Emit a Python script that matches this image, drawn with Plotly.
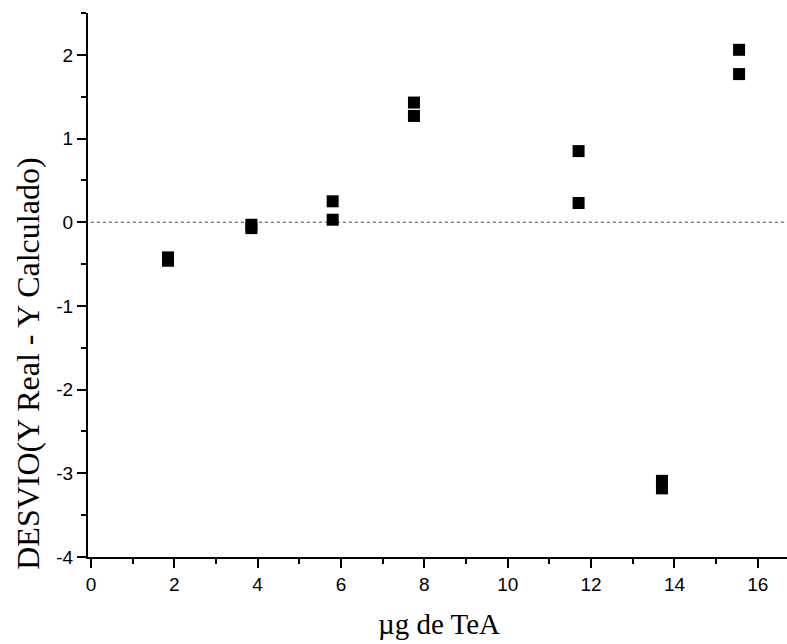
import plotly.graph_objects as go

# Residuals of the calibration fit: mass of TeA (µg) vs deviation (real - calculated)
mass_ug = [1.85, 1.85, 3.85, 3.85, 5.8, 5.8, 7.75, 7.75, 11.7, 11.7, 13.7, 13.7, 15.55, 15.55]
deviation = [-0.42, -0.46, -0.03, -0.07, 0.25, 0.03, 1.43, 1.27, 0.85, 0.23, -3.09, -3.18, 2.06, 1.77]

x_ticks = [0, 2, 4, 6, 8, 10, 12, 14, 16]
y_ticks = [-4, -3, -2, -1, 0, 1, 2]

x_title = "µg de TeA"
y_title = "DESVIO(Y Real - Y Calculado)"

fig = go.Figure()

# zero reference line
fig.add_trace(go.Scatter(
    x=[0, 16.7], y=[0, 0], mode="lines",
    line=dict(color="#444444", width=1, dash="dot"),
    hoverinfo="skip", showlegend=False,
))

fig.add_trace(go.Scatter(
    x=mass_ug, y=deviation, mode="markers",
    marker=dict(symbol="square", size=12, color="black"),
    showlegend=False,
))

axis_common = dict(
    showline=True, linecolor="black", linewidth=2,
    ticks="outside", tickcolor="black", tickwidth=2, ticklen=9,
    showgrid=False, zeroline=False, mirror=False,
    tickfont=dict(family="Liberation Sans, Arial", size=19, color="black"),
)

fig.update_xaxes(
    range=[-0.07, 16.7], tickvals=x_ticks, ticktext=[str(v) for v in x_ticks],
    minor=dict(dtick=1, ticks="outside", ticklen=5, tickcolor="black", tickwidth=1.5),
    **axis_common,
)
fig.update_yaxes(
    range=[-4, 2.5], tickvals=y_ticks, ticktext=[str(v) for v in y_ticks],
    minor=dict(dtick=0.5, ticks="outside", ticklen=5, tickcolor="black", tickwidth=1.5),
    **axis_common,
)

serif = "Liberation Serif, Times New Roman"
fig.add_annotation(
    text=y_title, textangle=-90, showarrow=False,
    xref="paper", yref="paper", x=-0.086, y=0.355,
    xanchor="center", yanchor="middle",
    font=dict(family=serif, size=32, color="black"),
)
fig.add_annotation(
    text=x_title, showarrow=False,
    xref="paper", yref="paper", x=0.502, y=-0.123,
    xanchor="center", yanchor="middle",
    font=dict(family=serif, size=29, color="black"),
)

fig.update_layout(
    width=787, height=644,
    margin=dict(l=88, r=0, t=13, b=87),
    plot_bgcolor="white", paper_bgcolor="white",
)

fig.write_html("out.html")
